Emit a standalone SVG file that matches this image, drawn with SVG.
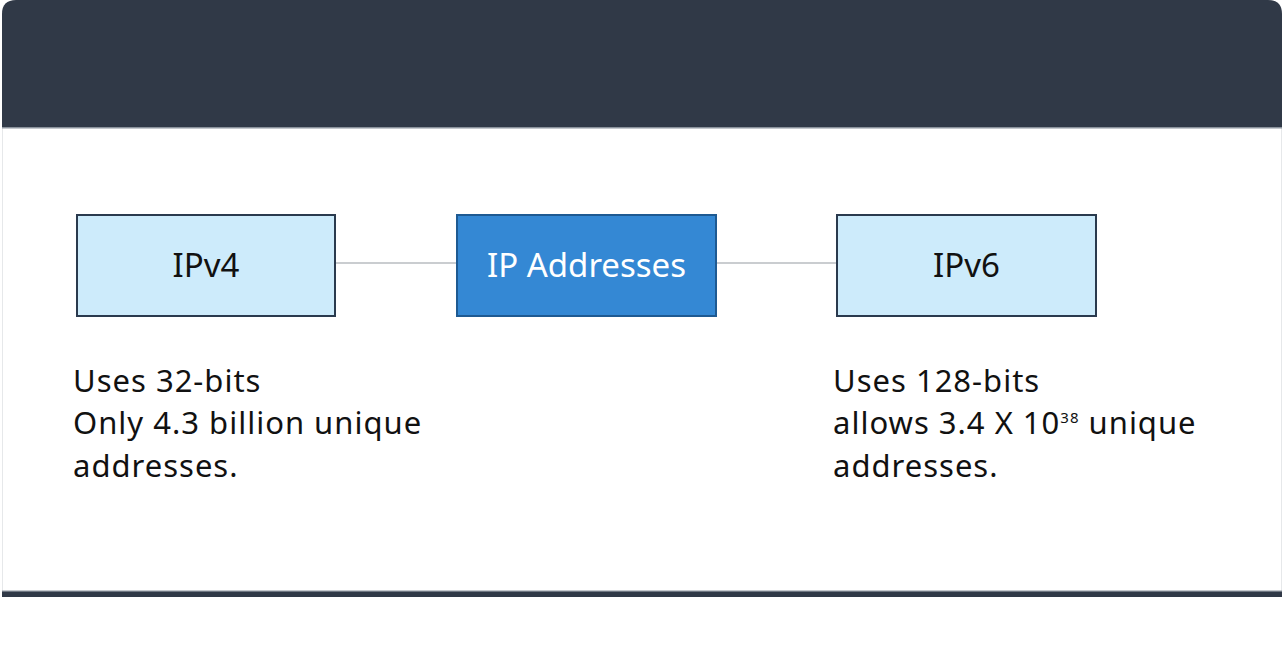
<svg xmlns="http://www.w3.org/2000/svg" width="1287" height="648" viewBox="0 0 1287 648">
<style>
.lbl{font-family:"Noto Sans","Open Sans","DejaVu Sans",sans-serif;font-size:33px;text-anchor:middle}
.desc{font-family:"Noto Sans","Open Sans","DejaVu Sans",sans-serif;font-size:31px;letter-spacing:1px;fill:#111}
.light{fill:#cdebfb;stroke:#2a3a4e;stroke-width:2}
.conn{stroke:#b9bdc1;stroke-width:1.5;fill:none}
</style>
<rect x="0" y="0" width="1287" height="648" fill="#ffffff"/>
<rect x="2.5" y="100" width="1279" height="495" fill="#ffffff" stroke="#e6e8ea" stroke-width="1"/>
<path d="M2,128 V14 Q2,0 16,0 H1268 Q1282,0 1282,14 V128 Z" fill="#303947"/>
<rect x="2" y="127" width="1280" height="1.5" fill="#8a929c"/>
<rect x="2" y="591" width="1280" height="6" fill="#303947"/>
<rect x="2" y="590.5" width="1280" height="1.2" fill="#8a929c"/>
<g id="connectors">
<line class="conn" x1="335" y1="263" x2="457" y2="263"/>
<line class="conn" x1="716" y1="263" x2="837" y2="263"/>
</g>
<g id="ipv4">
<rect class="light" x="77" y="215" width="258" height="101"/>
<text class="lbl" x="206" y="277" fill="#111">IPv4</text>
</g>
<g id="ip-addresses">
<rect x="457" y="215" width="259" height="101" fill="#3488d4" stroke="#1e5a92" stroke-width="2"/>
<text class="lbl" x="586.5" y="277" fill="#ffffff">IP Addresses</text>
</g>
<g id="ipv6">
<rect class="light" x="837" y="215" width="259" height="101"/>
<text class="lbl" x="966.5" y="277" fill="#111">IPv6</text>
</g>
<g id="ipv4-desc">
<text class="desc" x="73" y="392">Uses 32-bits</text>
<text class="desc" x="73" y="434">Only 4.3 billion unique</text>
<text class="desc" x="73" y="477">addresses.</text>
</g>
<g id="ipv6-desc">
<text class="desc" x="833" y="392">Uses 128-bits</text>
<text class="desc" x="833" y="434">allows 3.4 X 10<tspan font-size="15" dy="-11">38</tspan><tspan dy="11"> unique</tspan></text>
<text class="desc" x="833" y="477">addresses.</text>
</g>
</svg>
